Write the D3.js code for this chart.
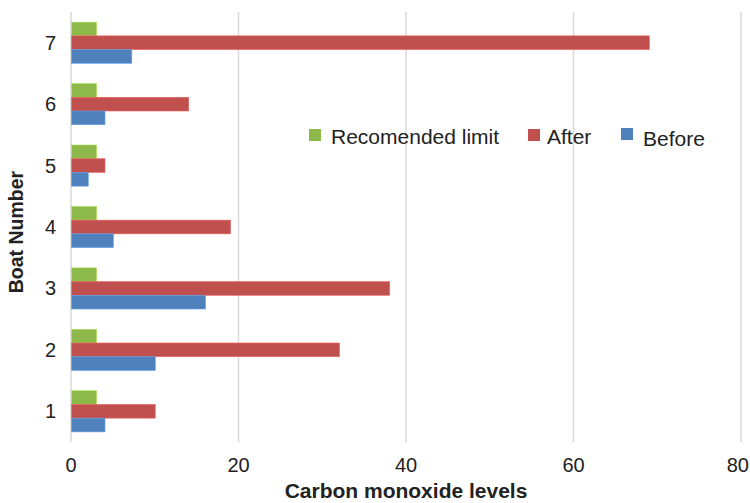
<!DOCTYPE html>
<html><head><meta charset="utf-8">
<script src="https://cdn.jsdelivr.net/npm/d3@7"></script>
<style>body{margin:0;background:#fff}svg{display:block;font-family:"Liberation Sans",Arial,sans-serif}</style>
</head><body><svg id="c" width="750" height="503"></svg>
<script>
const boats = ["1","2","3","4","5","6","7"];
const seriesNames = ["Recomended limit","After","Before"];
const recommended = [3,3,3,3,3,3,3];
const after = [10,32,38,19,4,14,69];
const before = [4,10,16,5,2,4,7.2];
const xTicks = [0,20,40,60,80];
const colors = ["#8db84a","#c0504d","#4f81bd"];

const svg = d3.select("#c");
const m = {l:71, r:9, t:12, b:61};
const W = 750, H = 503;
const x = d3.scaleLinear().domain([0,80]).range([m.l, W-m.r]);
const y = d3.scaleBand().domain(boats.slice().reverse()).range([m.t, H-m.b]).paddingInner(0.33).paddingOuter(0.165);
const sub = d3.scaleBand().domain(seriesNames).range([0, y.bandwidth()]);

// gridlines
svg.append("g").selectAll("line").data(xTicks).join("line")
  .attr("x1",d=>x(d)).attr("x2",d=>x(d)).attr("y1",m.t).attr("y2",H-m.b)
  .attr("stroke","#d9d9d9").attr("stroke-width",1.5);

const data = [recommended, after, before];
seriesNames.forEach((s,i)=>{
  svg.append("g").selectAll("rect").data(boats).join("rect")
    .attr("x", x(0)+0.5)
    .attr("y", (b)=>y(b)+sub(s))
    .attr("width", (b,j)=>x(data[i][j])-x(0))
    .attr("height", sub.bandwidth())
    .attr("fill", colors[i])
    .attr("stroke", d3.color(colors[i]).brighter(0.6))
    .attr("stroke-width",0.6);
});

// y axis labels
svg.append("g").selectAll("text").data(boats).join("text")
  .attr("x", 56).attr("y", b=>y(b)+y.bandwidth()/2)
  .attr("dy","0.35em").attr("text-anchor","end")
  .attr("font-size",20).attr("fill","#222").text(d=>d);

// x axis labels
svg.append("g").selectAll("text").data(xTicks).join("text")
  .attr("x", d=> d===80 ? 749 : x(d)).attr("y", 472)
  .attr("text-anchor", d=> d===80 ? "end" : "middle")
  .attr("font-size",20).attr("fill","#222").text(d=>d);

svg.append("text").attr("x",(x(0)+x(80))/2).attr("y",498).attr("text-anchor","middle")
  .attr("font-size",21).attr("font-weight","bold").attr("fill","#222").text("Carbon monoxide levels");
svg.append("text").attr("transform","translate(23,232) rotate(-90)")
  .attr("text-anchor","middle").attr("font-size",19.5).attr("font-weight","bold").attr("fill","#222").text("Boat Number");

// legend
const legSq = [[309,129],[528,129],[621,128]];
const legTx = [[331,144],[547,144],[643,146]];
seriesNames.forEach((s,i)=>{
  const g = svg.append("g");
  g.append("rect").attr("x",legSq[i][0]).attr("y",legSq[i][1]).attr("width",12).attr("height",12).attr("fill",colors[i]);
  g.append("text").attr("x",legTx[i][0]).attr("y",legTx[i][1])
    .attr("font-size",21).attr("fill","#222").text(s);
});
</script></body></html>
